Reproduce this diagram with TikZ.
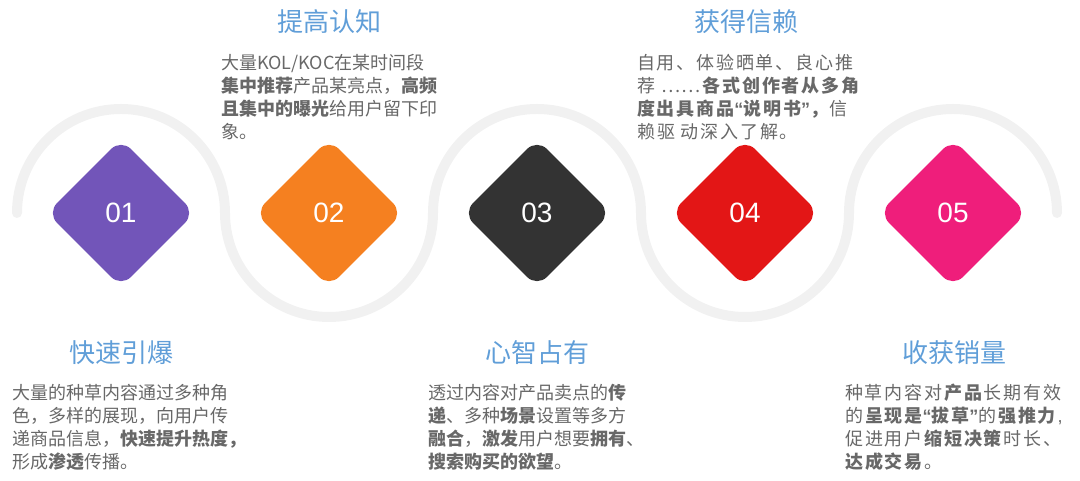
\documentclass[tikz,border=0pt]{standalone}
\usepackage{fontspec}
\setmainfont{Noto Sans CJK SC}
\newfontfamily\numfont{Liberation Sans}
\newcommand\myopenq{{\numfont\bfseries “}}
\newcommand\mycloseq{{\numfont\bfseries ”}}
\usetikzlibrary{shapes.geometric}
\definecolor{cpurple}{RGB}{114,85,185}
\definecolor{corange}{RGB}{245,128,32}
\definecolor{cdark}{RGB}{51,51,51}
\definecolor{cred}{RGB}{227,22,22}
\definecolor{cpink}{RGB}{239,30,123}
\definecolor{trackgray}{RGB}{241,241,241}
\definecolor{bodygray}{RGB}{104,104,104}
\definecolor{titleblue}{RGB}{96,158,216}
\begin{document}
\begin{tikzpicture}[x=1pt,y=1pt,
  dia/.style={diamond, minimum width=148pt, minimum height=148pt, inner sep=0pt,
    rounded corners=14pt, text=white, font=\numfont\fontsize{28}{30}\selectfont},
  ttl/.style={text=titleblue, font=\fontsize{26}{30}\selectfont, inner sep=0pt},
  body/.style={text=bodygray, font=\fontsize{18}{23}\selectfont, align=left,
    anchor=north west, inner sep=0pt},
  wide/.style={font=\fontsize{18}{23}\selectfont\addfontfeatures{LetterSpace=10}},
  track/.style={draw=trackgray, line width=10pt, line cap=round}]
\useasboundingbox (0,0) rectangle (1080,481);
% track
\coordinate (trackstart) at (17,268);
\draw[track] (trackstart)
  arc[start angle=180, end angle=0, radius=104]
  arc[start angle=180, end angle=360, radius=104]
  arc[start angle=180, end angle=0, radius=104]
  arc[start angle=180, end angle=360, radius=104]
  arc[start angle=180, end angle=0, radius=104];
% diamonds
\node[dia, fill=cpurple] (d1) at (121,268) {01};
\node[dia, fill=corange] (d2) at (329,268) {02};
\node[dia, fill=cdark]   (d3) at (537,268) {03};
\node[dia, fill=cred]    (d4) at (745,268) {04};
\node[dia, fill=cpink]   (d5) at (953,268) {05};
% titles
\node[ttl] (t2) at (329,459) {提高认知};
\node[ttl] (t4) at (746,459) {获得信赖};
\node[ttl] (t1) at (121,128) {快速引爆};
\node[ttl] (t3) at (537,128) {心智占有};
\node[ttl] (t5) at (954,128) {收获销量};
% bodies
\node[body] (b2) at (221,427) {大量KOL/KOC在某时间段\\
\textbf{集中推荐}产品某亮点，\textbf{高频}\\
\textbf{且集中的曝光}给用户留下印\\
象。};
\node[body, wide] (b4) at (637,427) {自用、体验晒单、良心推\\
荐 ……\textbf{各式创作者从多角}\\
\textbf{度出具商品\myopenq 说明书\mycloseq ，}信\\
赖驱 动深入了解。};
\node[body] (b1) at (12,97) {大量的种草内容通过多种角\\
色，多样的展现，向用户传\\
递商品信息，\textbf{快速提升热度，}\\
形成\textbf{渗透}传播。};
\node[body] (b3) at (428,97) {透过内容对产品卖点的\textbf{传}\\
\textbf{递}、多种\textbf{场景}设置等多方\\
\textbf{融合}，\textbf{激发}用户想要\textbf{拥有}、\\
\textbf{搜索购买的欲望}。};
\node[body, wide] (b5) at (845,97) {种草内容对\textbf{产品}长期有效\\
的\textbf{呈现是\myopenq 拔草\mycloseq}的\textbf{强推力}{\numfont ,}\\
促进用户\textbf{缩短决策}时长、\\
\textbf{达成交易}。};
\end{tikzpicture}
\end{document}
